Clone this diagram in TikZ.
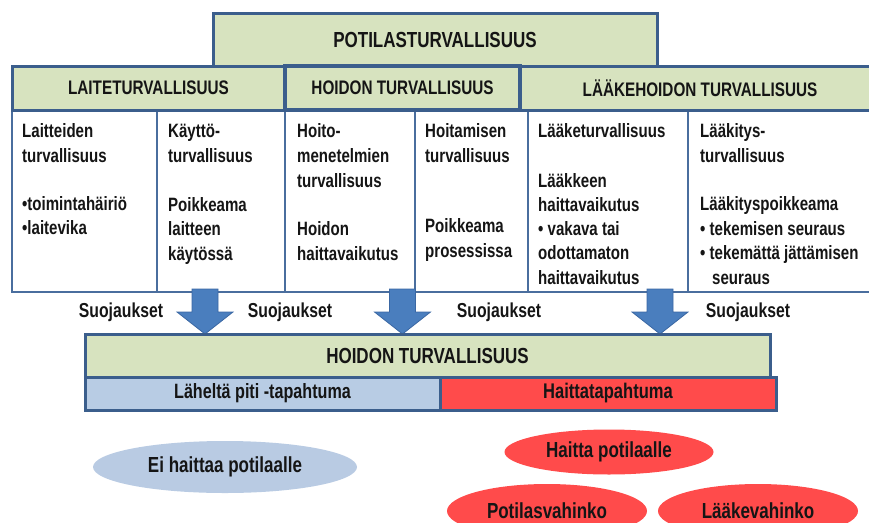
\documentclass[tikz,border=0pt]{standalone}
\usepackage{fontspec}
\setmainfont{Liberation Sans}[FakeStretch=0.78]
\usetikzlibrary{shapes.geometric}
\definecolor{bord}{HTML}{3B5E8C}
\definecolor{bord2}{HTML}{4A6E9E}
\definecolor{grn}{HTML}{D7E3BF}
\definecolor{lblue}{HTML}{B8CCE4}
\definecolor{eblue}{HTML}{B9CBE3}
\definecolor{hred}{HTML}{FF4B4B}
\definecolor{arrf}{HTML}{4A7EBE}
\definecolor{arrd}{HTML}{3A67A3}
\definecolor{ink}{HTML}{151515}
\newcommand\tline[4]{\node[txt,anchor=base west] (#1) at (#2,#3) {#4};}
\begin{document}
\begin{tikzpicture}[x=1pt,y=-1pt,
  bx/.style={draw=bord, line width=3pt, inner sep=0pt, text=ink,
    font=\bfseries\fontsize{19.6}{22}\selectfont},
  grnbox/.style={bx, fill=grn},
  colbox/.style={draw=bord2, line width=2.2pt, fill=white, inner sep=0pt, minimum height=182pt},
  txt/.style={inner sep=0pt, text=ink, font=\bfseries\fontsize{19.3}{22}\selectfont},
  lab/.style={inner sep=0pt, text=ink, font=\bfseries\fontsize{20.2}{22}\selectfont},
  ell/.style={ellipse, inner sep=0pt, text=ink, font=\bfseries\fontsize{21.8}{24}\selectfont},
  arr/.style={fill=arrf, draw=arrd, line width=0.8pt, line join=miter}
]
\useasboundingbox (0,0) rectangle (869,522);

% white columns
\node[colbox, minimum width=145pt] (c1) at (84.5,201) {};
\node[colbox, minimum width=128pt] (c2) at (221,201) {};
\node[colbox, minimum width=130pt] (c3) at (350,201) {};
\node[colbox, minimum width=113pt] (c4) at (471.5,201) {};
\node[colbox, minimum width=160pt] (c5) at (608,201) {};
\node[colbox, minimum width=192pt] (c6) at (784,201) {};

% top header
\node[grnbox, minimum width=444pt, minimum height=53pt,
  font=\bfseries\fontsize{21.8}{24}\selectfont] (top) at (435,39.5) {POTILASTURVALLISUUS};
% second row headers
\node[grnbox, minimum width=273pt, minimum height=44pt] (laite) at (148.5,88) {LAITETURVALLISUUS};
\node[grnbox, minimum width=360pt, minimum height=44pt] (laake) at (700,88) {LÄÄKEHOIDON TURVALLISUUS};
\node[grnbox, line width=4pt, minimum width=235pt, minimum height=44pt] (hoidon) at (402.5,88) {HOIDON TURVALLISUUS};

% column texts
\tline{t11}{22}{137}{Laitteiden}
\tline{t12}{22}{162}{turvallisuus}
\tline{t13}{22}{210}{•toimintahäiriö}
\tline{t14}{22}{234}{•laitevika}

\tline{t21}{168}{137}{Käyttö-}
\tline{t22}{168}{162}{turvallisuus}
\tline{t23}{168}{211}{Poikkeama}
\tline{t24}{168}{235}{laitteen}
\tline{t25}{168}{260}{käytössä}

\tline{t31}{297}{137}{Hoito-}
\tline{t32}{297}{162}{menetelmien}
\tline{t33}{297}{187}{turvallisuus}
\tline{t34}{297}{235}{Hoidon}
\tline{t35}{297}{260}{haittavaikutus}

\tline{t41}{425}{137}{Hoitamisen}
\tline{t42}{425}{162}{turvallisuus}
\tline{t43}{425}{232}{Poikkeama}
\tline{t44}{425}{257}{prosessissa}

\tline{t51}{538}{137}{Lääketurvallisuus}
\tline{t52}{538}{187}{Lääkkeen}
\tline{t53}{538}{211}{haittavaikutus}
\tline{t54}{538}{235}{• vakava tai}
\tline{t55}{538}{259}{odottamaton}
\tline{t56}{538}{284}{haittavaikutus}

\tline{t61}{700}{137}{Lääkitys-}
\tline{t62}{700}{162}{turvallisuus}
\tline{t63}{700}{210}{Lääkityspoikkeama}
\tline{t64}{700}{235}{• tekemisen seuraus}
\tline{t65}{700}{259}{• tekemättä jättämisen}
\tline{t66}{712}{284}{seuraus}

% block arrows
\foreach \x in {205,402.5,660}{
  \draw[arr] (\x-13,289) -- (\x+13,289) -- (\x+13,312) -- (\x+28,312)
    -- (\x,334) -- (\x-28,312) -- (\x-13,312) -- cycle;
}

% Suojaukset labels
\node[lab] (s1) at (121,312) {Suojaukset};
\node[lab] (s2) at (290,312) {Suojaukset};
\node[lab] (s3) at (499,312) {Suojaukset};
\node[lab] (s4) at (748,312) {Suojaukset};

% lower boxes
\node[grnbox, minimum width=685pt, minimum height=43pt,
  font=\bfseries\fontsize{21.8}{24}\selectfont] (hoidon2) at (427.5,355.5) {HOIDON TURVALLISUUS};
\node[bx, fill=lblue, minimum width=355pt, minimum height=33pt,
  font=\bfseries\fontsize{20.7}{23}\selectfont] (lahelta) at (262.5,393.5) {Läheltä piti -tapahtuma};
\node[bx, fill=hred, minimum width=336pt, minimum height=33pt,
  font=\bfseries\fontsize{21.2}{23}\selectfont] (haitta) at (608,393.5) {Haittatapahtuma};

% ellipses
\node[ell, fill=eblue, minimum width=264pt, minimum height=52pt] (ei) at (225,467) {Ei haittaa potilaalle};
\node[ell, fill=hred, minimum width=209pt, minimum height=45pt] (hp) at (609,452) {Haitta potilaalle};
\node[ell, fill=hred, minimum width=200pt, minimum height=54pt] (pv) at (547,511) {Potilasvahinko};
\node[ell, fill=hred, minimum width=200pt, minimum height=54pt] (lv) at (758,511) {Lääkevahinko};
\end{tikzpicture}
\end{document}
